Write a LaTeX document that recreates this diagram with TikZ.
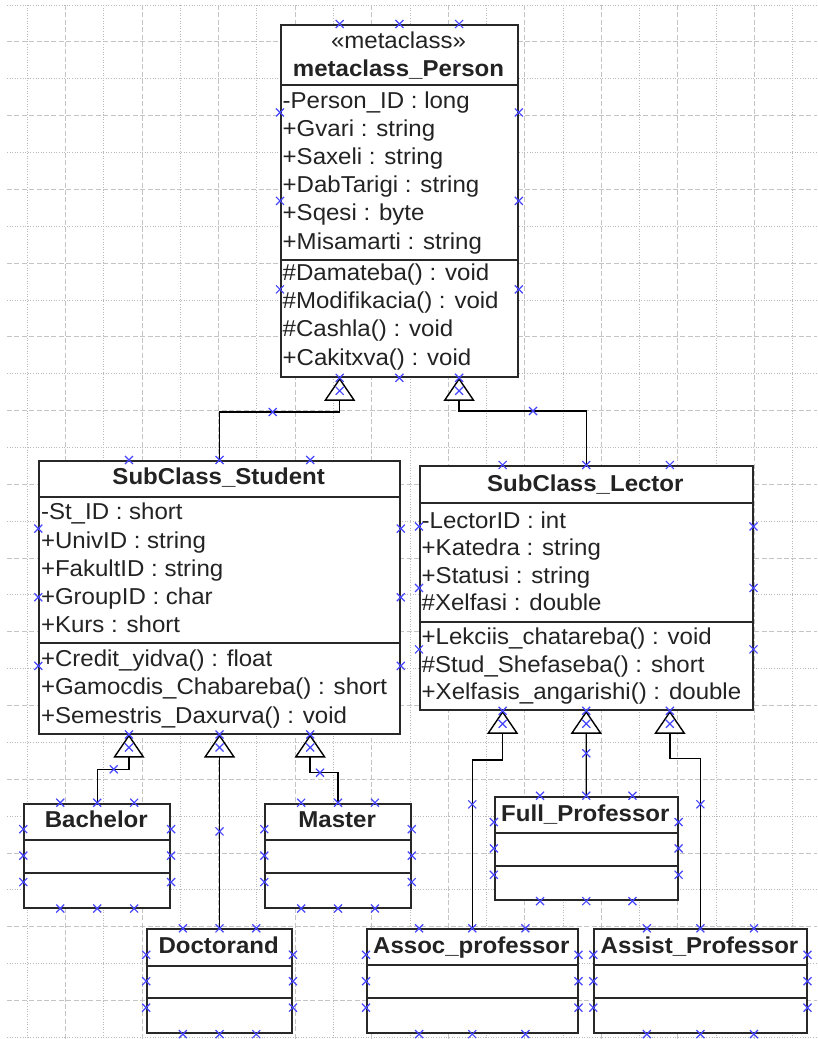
\documentclass[tikz,border=0pt]{standalone}
\usepackage{fontspec}
\setmainfont{Liberation Sans}[FakeStretch=1.045]
\usetikzlibrary{arrows.meta,calc,decorations.markings}

\definecolor{gridgray}{RGB}{196,196,196}
\definecolor{dotgray}{RGB}{186,186,186}
\definecolor{handle}{RGB}{70,70,255}
\definecolor{ink}{RGB}{35,35,35}
\definecolor{edge}{RGB}{40,40,40}

\tikzset{
  gridminor/.style={draw=dotgray, line width=0.9pt, dash pattern=on 1pt off 1.6pt},
  gridmajor/.style={draw=gridgray, line width=1pt, dash pattern=on 5pt off 2.4pt},
  classbox/.style={draw=edge, line width=1.8pt, fill=white, rectangle, inner sep=0pt, anchor=north west},
  sepline/.style={draw=edge, line width=1.8pt},
  member/.style={anchor=base west, inner sep=0pt, text=ink, font=\fontsize{23}{27}\selectfont},
  classname/.style={anchor=base, inner sep=0pt, text=ink, font=\fontsize{23}{27}\selectfont\bfseries},
  stereotype/.style={anchor=base, inner sep=0pt, text=ink, font=\fontsize{23}{27}\selectfont},
  hx/.pic={\draw[handle, line width=1.2pt, -, solid] (-4,-4) -- (4,4) (-4,4) -- (4,-4);},
  gen/.style={draw=black, line width=1.4pt,
    -{Triangle[fill=white, length=23pt, width=31pt]},
    postaction={decorate},
    decoration={markings, mark=at position 0.5 with {\pic{hx};}}},
}

% separator line across a class box, #2 below its top edge
\newcommand\compart[2]{\draw[sepline] ($(#1.north west)+(0,#2)$) -- ($(#1.north east)+(0,#2)$);}
% connection handles at the quarter points of every side of a box
\newcommand\boxhandles[1]{%
  \foreach \t in {0.25,0.5,0.75}{%
    \pic at ($(#1.north west)!\t!(#1.north east)$) {hx};
    \pic at ($(#1.south west)!\t!(#1.south east)$) {hx};
    \pic at ($(#1.north west)!\t!(#1.south west)$) {hx};
    \pic at ($(#1.north east)!\t!(#1.south east)$) {hx};
  }}

\begin{document}
\begin{tikzpicture}[x=1pt, y=-1pt]
\useasboundingbox (0,0) rectangle (817,1039);
\fill[white] (0,0) rectangle (817,1039);

% background grid
\foreach \k in {0,2,...,28} \draw[gridminor] (7,{5+36.87*\k}) -- (817,{5+36.87*\k});
\foreach \k in {1,3,...,27} \draw[gridmajor] (7,{5+36.87*\k}) -- (817,{5+36.87*\k});
\foreach \k in {0,2,...,20} \draw[gridminor] ({27.3+38.27*\k},5) -- ({27.3+38.27*\k},1039);
\foreach \k in {1,3,...,19} \draw[gridmajor] ({27.3+38.27*\k},5) -- ({27.3+38.27*\k},1039);

% class boxes
\node[classbox, minimum width=237pt, minimum height=352pt] (person) at (280,24) {};
\node[classbox, minimum width=360.7pt, minimum height=272.7pt] (stud) at (38.3,460) {};
\node[classbox, minimum width=332.7pt, minimum height=244pt] (lect) at (419,465) {};
\node[classbox, minimum width=146pt, minimum height=104pt] (bach) at (23.3,802.7) {};
\node[classbox, minimum width=145.7pt, minimum height=104pt] (mast) at (264.3,802.7) {};
\node[classbox, minimum width=145pt, minimum height=104pt] (doct) at (146.15,928.3) {};
\node[classbox, minimum width=183pt, minimum height=103.6pt] (full) at (493.85,795.7) {};
\node[classbox, minimum width=210.7pt, minimum height=104pt] (assoc) at (366,928.3) {};
\node[classbox, minimum width=212.4pt, minimum height=104pt] (assist) at (593.3,928.3) {};

% compartments
\compart{person}{61}   \compart{person}{236}
\compart{stud}{36.7}   \compart{stud}{182.7}
\compart{lect}{38.3}   \compart{lect}{157.3}
\compart{bach}{37.3}   \compart{bach}{70.6}
\compart{mast}{37.3}   \compart{mast}{70.6}
\compart{doct}{37.7}   \compart{doct}{69.4}
\compart{full}{37}     \compart{full}{70}
\compart{assoc}{36.7}  \compart{assoc}{70}
\compart{assist}{36.7} \compart{assist}{70}

% metaclass_Person
\node[stereotype] (person-st) at (398.5,48) {«metaclass»};
\node[classname] (person-nm) at (398.5,76) {metaclass\_Person};
\foreach \yy/\txt [count=\i] in {100/{-Person\_ID : long},128.2/{+Gvari : string},156.4/{+Saxeli : string},184.6/{+DabTarigi : string},212.8/{+Sqesi : byte},241/{+Misamarti : string}}
  \node[member] (person-a\i) at (282.5,{\yy+8}) {\txt};
\foreach \yy/\txt [count=\i] in {272/{\#Damateba() : void},300.3/{\#Modifikacia() : void},328.6/{\#Cashla() : void},357/{+Cakitxva() : void}}
  \node[member] (person-o\i) at (282.5,{\yy+8}) {\txt};

% SubClass_Student
\node[classname] (stud-nm) at (218.65,484.7) {SubClass\_Student};
\foreach \yy/\txt [count=\i] in {511.7/{-St\_ID : short},540/{+UnivID : string},568.3/{+FakultID : string},596.6/{+GroupID : char},624.9/{+Kurs : short}}
  \node[member] (stud-a\i) at (40.8,{\yy+8}) {\txt};
\foreach \yy/\txt [count=\i] in {658/{+Credit\_yidva() : float},686.5/{+Gamocdis\_Chabareba() : short},715/{+Semestris\_Daxurva() : void}}
  \node[member] (stud-o\i) at (40.8,{\yy+8}) {\txt};

% SubClass_Lector
\node[classname] (lect-nm) at (585.35,491.3) {SubClass\_Lector};
\foreach \yy/\txt [count=\i] in {520/{-LectorID : int},547.6/{+Katedra : string},575.2/{+Statusi : string},602.8/{\#Xelfasi : double}}
  \node[member] (lect-a\i) at (421.5,{\yy+8}) {\txt};
\foreach \yy/\txt [count=\i] in {636.7/{+Lekciis\_chatareba() : void},664.2/{\#Stud\_Shefaseba() : short},691.7/{+Xelfasis\_angarishi() : double}}
  \node[member] (lect-o\i) at (421.5,{\yy+8}) {\txt};

% leaf classes
\node[classname] (bach-nm) at (96.3,827.3) {Bachelor};
\node[classname] (mast-nm) at (337.15,827.3) {Master};
\node[classname] (doct-nm) at (218.65,953) {Doctorand};
\node[classname] (full-nm) at (585.35,821.3) {Full\_Professor};
\node[classname] (assoc-nm) at (471.35,953.7) {Assoc\_professor};
\node[classname] (assist-nm) at (699.5,953.7) {Assist\_Professor};

% attachment points on the parents
\coordinate (pL) at ($(person.south west)!0.25!(person.south east)$);
\coordinate (pR) at ($(person.south west)!0.75!(person.south east)$);
\coordinate (sL) at ($(stud.south west)!0.25!(stud.south east)$);
\coordinate (sM) at (stud.south);
\coordinate (sR) at ($(stud.south west)!0.75!(stud.south east)$);
\coordinate (lL) at ($(lect.south west)!0.25!(lect.south east)$);
\coordinate (lM) at (lect.south);
\coordinate (lR) at ($(lect.south west)!0.75!(lect.south east)$);
% heights of the horizontal runs
\coordinate (hPS) at (0,412);
\coordinate (hPL) at (0,411);
\coordinate (hSB) at (0,769.3);
\coordinate (hSM) at (0,772.7);
\coordinate (hLA) at (0,760);
\coordinate (hLB) at (0,758.3);

% generalizations
\draw[gen] (stud.north) -- (stud.north |- hPS) -| (pL);
\draw[gen] (lect.north) -- (lect.north |- hPL) -| (pR);
\draw[gen] (bach.north) -- (bach.north |- hSB) -| (sL);
\draw[gen] (doct.north) -- (sM);
\draw[gen] (mast.north) -- (mast.north |- hSM) -| (sR);
\draw[gen] (assoc.north) -- (assoc.north |- hLA) -| (lL);
\draw[gen] (full.north) -- (lM);
\draw[gen] (assist.north) -- (assist.north |- hLB) -| (lR);

% connector end handles inside the triangles
\foreach \c in {pL,pR,sL,sM,sR,lL,lM,lR} \pic at ($(\c)+(0,13)$) {hx};

% box handles
\foreach \b in {person,stud,lect,bach,mast,doct,full,assoc,assist} {\boxhandles{\b}}
\end{tikzpicture}
\end{document}
